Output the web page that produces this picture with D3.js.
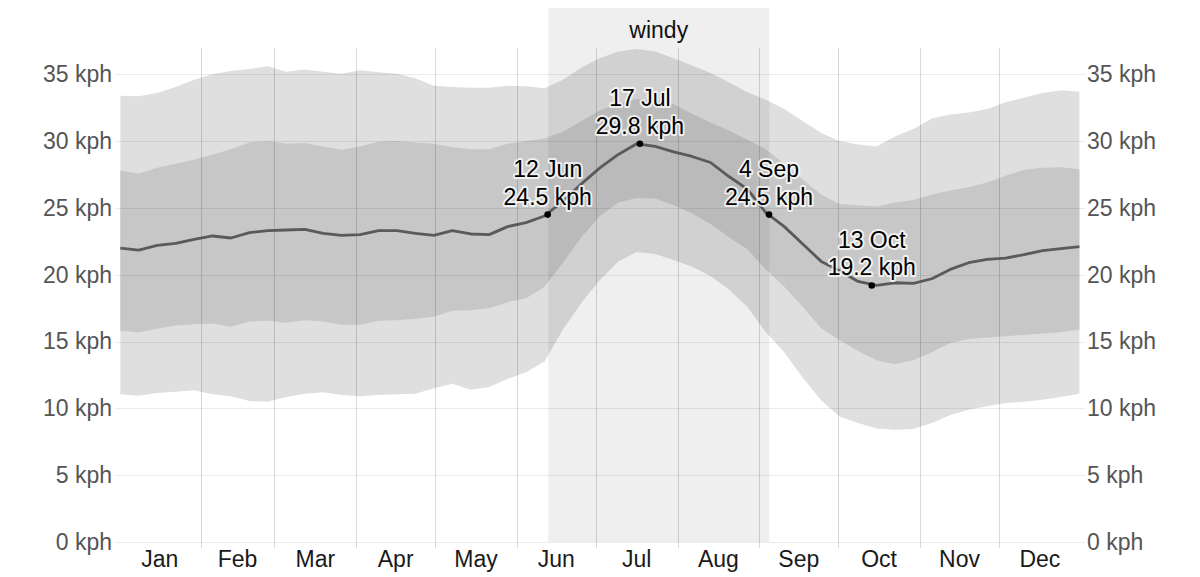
<!DOCTYPE html>
<html><head><meta charset="utf-8">
<script src="https://cdn.jsdelivr.net/npm/d3@7"></script>
<style>
body{margin:0;background:#fff}
svg{display:block}
text{font-family:"Liberation Sans",Arial,Helvetica,sans-serif}
</style>
</head><body>
<svg id="chart" width="1200" height="577"></svg>
<script>
// ---- data (day-of-year index, 0 = 1 Jan) ----
const days = [0,7,14,21,28,35,42,49,56,63,70,77,84,91,98,105,112,119,126,133,140,147,154,161,168,175,182,189,196,203,210,217,224,231,238,245,252,259,266,273,280,287,294,301,308,315,322,329,336,343,350,357,364];
const p90 = [33.4,33.35,33.6,34.05,34.6,35.0,35.25,35.4,35.6,35.2,35.35,35.2,35.05,35.3,35.15,35.05,34.7,34.15,34.05,34.0,34.0,34.15,34.1,33.95,34.6,35.5,36.2,36.7,36.9,36.7,36.2,35.65,35.1,34.4,33.65,33.1,32.4,31.5,30.6,30.0,29.75,29.6,30.35,30.9,31.7,32.0,32.15,32.4,32.9,33.25,33.6,33.8,33.7];
const p75 = [27.8,27.55,28.0,28.3,28.6,29.0,29.4,29.9,30.0,29.8,29.85,29.6,29.35,29.6,29.95,30.0,29.9,29.8,29.55,29.4,29.4,29.8,30.0,30.2,30.7,31.5,32.3,32.85,33.15,33.1,32.75,32.05,31.4,30.8,30.1,29.4,28.3,27.1,26.0,25.3,25.2,25.1,25.4,25.6,26.0,26.3,26.55,26.9,27.4,27.85,28.0,28.05,27.9];
const meanSpeed = [22.0,21.85,22.2,22.35,22.65,22.9,22.75,23.15,23.3,23.35,23.4,23.1,22.95,23.0,23.3,23.3,23.1,22.95,23.3,23.05,23.0,23.6,23.9,24.4,25.5,26.8,28.0,29.0,29.8,29.6,29.2,28.85,28.4,27.35,26.4,24.65,23.6,22.3,21.0,20.3,19.5,19.2,19.4,19.35,19.7,20.4,20.9,21.15,21.25,21.5,21.8,21.95,22.1];
const p25 = [15.8,15.7,15.95,16.2,16.3,16.35,16.1,16.5,16.55,16.4,16.6,16.5,16.25,16.25,16.55,16.6,16.7,16.85,17.3,17.35,17.5,17.95,18.25,19.1,20.9,22.8,24.4,25.4,25.75,25.7,25.2,24.6,23.8,22.8,21.9,20.4,19.1,17.6,16.0,15.1,14.3,13.6,13.3,13.6,14.2,14.9,15.2,15.3,15.4,15.5,15.6,15.7,15.9];
const p10 = [11.05,10.95,11.15,11.25,11.35,11.05,10.9,10.55,10.5,10.85,11.1,11.2,11.0,10.9,11.0,11.05,11.1,11.5,11.85,11.4,11.6,12.2,12.7,13.5,15.9,17.9,19.6,21.0,21.7,21.55,21.1,20.6,19.9,18.9,17.6,15.7,14.2,12.3,10.6,9.4,8.9,8.5,8.4,8.45,8.9,9.5,9.9,10.15,10.4,10.5,10.65,10.85,11.1];

const monthNames = ["Jan","Feb","Mar","Apr","May","Jun","Jul","Aug","Sep","Oct","Nov","Dec"];
const monthStarts = [0,31,59,90,120,151,181,212,243,273,304,334,365];
const yTicks = [0,5,10,15,20,25,30,35];
const unit = "kph";

const windyLabel = "windy";
const windyStart = 162;   // 12 Jun
const windyEnd = 246;     // 4 Sep

const markerDays = [162,197,246,285];
const markerDates = ["12 Jun","17 Jul","4 Sep","13 Oct"];
const markerValues = [24.5,29.8,24.5,19.2];

// ---- drawing ----
const svg = d3.select("#chart");
const x = d3.scaleLinear().domain([0,365]).range([119.0, 1080.7]);
const y = d3.scaleLinear().domain([0,35]).range([542, 74.3]);
const off = 0.5;
const rows = days.map((d,i)=>({d, p90:p90[i], p75:p75[i], m:meanSpeed[i], p25:p25[i], p10:p10[i]}));

const area = (lo,hi) => d3.area().x(r=>x(r.d+off)).y0(r=>y(r[lo])).y1(r=>y(r[hi]));
svg.append("path").datum(rows).attr("d", area("p10","p90")).attr("fill","#dfdfdf");
svg.append("path").datum(rows).attr("d", area("p25","p75")).attr("fill","#c7c7c7");

// windy band overlay
svg.append("rect")
  .attr("x", x(windyStart+0.9)).attr("y", 8)
  .attr("width", x(windyEnd+0.8)-x(windyStart+0.9)).attr("height", y(0)-8)
  .attr("fill","#000").attr("fill-opacity",0.063);

// horizontal grid
svg.append("g").selectAll("line").data(yTicks).join("line")
  .attr("x1",115).attr("x2",1085)
  .attr("y1",v=>Math.round(y(v))+0.5).attr("y2",v=>Math.round(y(v))+0.5)
  .attr("stroke","#000").attr("stroke-opacity",0.08).attr("stroke-width",1);

// vertical month grid
svg.append("g").selectAll("line").data(monthStarts.slice(1,12)).join("line")
  .attr("x1",d=>Math.round(x(d))+0.5).attr("x2",d=>Math.round(x(d))+0.5)
  .attr("y1",48).attr("y2",548)
  .attr("stroke","#000").attr("stroke-opacity",0.15).attr("stroke-width",1);

// mean line
svg.append("path").datum(rows)
  .attr("d", d3.line().x(r=>x(r.d+off)).y(r=>y(r.m)))
  .attr("fill","none").attr("stroke","#5a5a5a").attr("stroke-width",2.8)
  .attr("stroke-linejoin","round");

// axes labels
const yAxisL = d3.axisLeft(y).tickValues(yTicks).tickFormat(v=>v+" "+unit).tickSize(0).tickPadding(0);
const gl = svg.append("g").attr("transform","translate(112,0)").call(yAxisL);
const yAxisR = d3.axisRight(y).tickValues(yTicks).tickFormat(v=>v+" "+unit).tickSize(0).tickPadding(0);
const gr = svg.append("g").attr("transform","translate(1087,0)").call(yAxisR);
[gl,gr].forEach(g=>{
  g.select(".domain").remove();
  g.selectAll("text").attr("font-size",23).attr("fill","#555").attr("font-family","Liberation Sans, Arial, sans-serif");
});

// month labels
svg.append("g").selectAll("text").data(monthNames).join("text")
  .attr("x",(m,i)=>x((monthStarts[i]+monthStarts[i+1])/2))
  .attr("y",567).attr("text-anchor","middle").attr("font-size",23).attr("fill","#1a1a1a")
  .text(m=>m);

// windy label
svg.append("text").attr("x",(x(windyStart+0.9)+x(windyEnd+0.8))/2).attr("y",38)
  .attr("text-anchor","middle").attr("font-size",23).attr("fill","#111").text(windyLabel);

// markers
const mk = svg.append("g").selectAll("g").data(markerDays).join("g");
mk.append("circle").attr("cx",(d)=>x(d+0.7)).attr("cy",(d,i)=>y(markerValues[i])).attr("r",3.3).attr("fill","#000");
const lbl = (sel, txt, dy) => sel.append("text")
  .attr("x",d=>x(d+0.7)).attr("y",(d,i)=>y(markerValues[i])+dy)
  .attr("text-anchor","middle").attr("font-size",23).attr("fill","#000")
  .attr("stroke","#fff").attr("stroke-width",4).attr("stroke-opacity",0.75)
  .attr("stroke-linejoin","round").attr("paint-order","stroke")
  .text(txt);
lbl(mk, (d,i)=>markerDates[i], -37.5);
lbl(mk, (d,i)=>markerValues[i].toFixed(1)+" "+unit, -10);
</script>
</body></html>
